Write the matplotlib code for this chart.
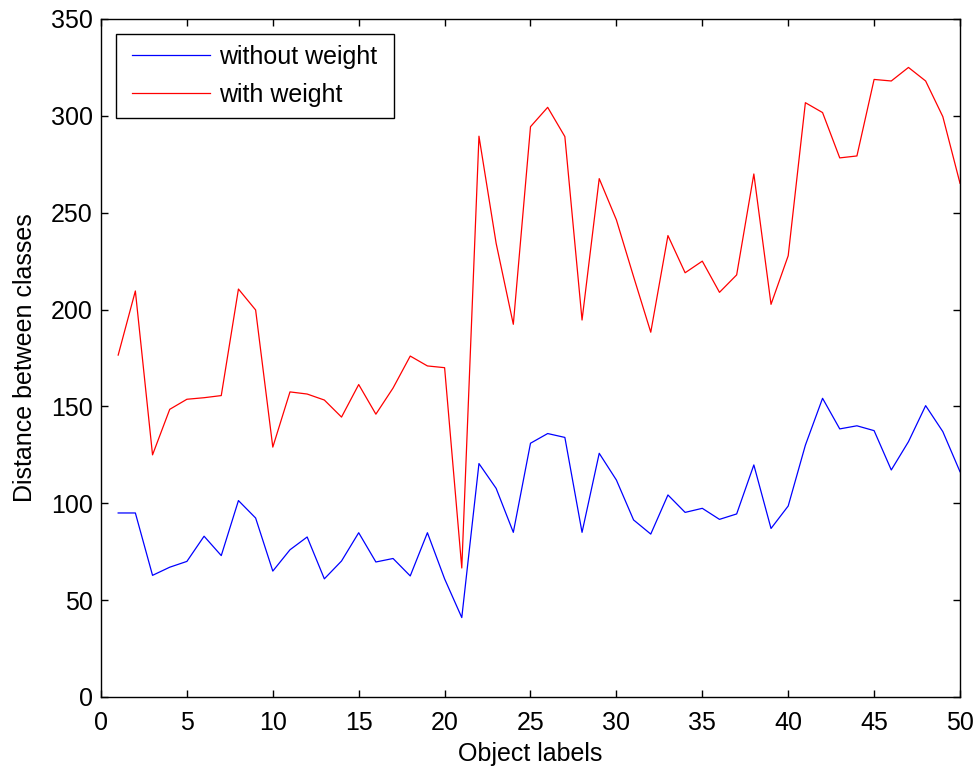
import matplotlib
matplotlib.use("Agg")
import matplotlib.pyplot as plt
from matplotlib.path import Path

object_labels = list(range(1, 51))
without_weight = [95, 95, 62.8, 67, 70, 83, 73, 101.4, 92.4, 65,
                  76, 82.6, 61, 70.2, 84.8, 69.7, 71.5, 62.5, 84.8, 61,
                  41, 120.5, 107.7, 85, 131, 136, 134, 85, 125.8, 112,
                  91.4, 84.1, 104.3, 95.3, 97.4, 91.7, 94.5, 119.8, 87, 98.6,
                  130, 154.2, 138.4, 140, 137.5, 117.2, 131.8, 150.4, 137, 116.3]
with_weight = [176.5, 209.6, 125, 148.5, 153.7, 154.5, 155.6, 210.6, 199.8, 129,
               157.5, 156.4, 153.3, 144.5, 161.3, 146, 159.5, 176, 170.9, 170,
               66.6, 289.5, 234.2, 192.4, 294.4, 304.4, 289.3, 194.6, 267.6, 246.3,
               217, 188.3, 238.2, 219, 225, 208.9, 217.9, 270, 202.7, 227.8,
               306.8, 301.7, 278.3, 279.3, 318.8, 318, 325, 318, 299.6, 265.2]
series_names = ["without weight", "with weight"]
x_ticks = list(range(0, 51, 5))
y_ticks = list(range(0, 351, 50))

plt.rcParams['font.family'] = ['Liberation Sans', 'DejaVu Sans']
FS = 18

fig = plt.figure(figsize=(9.79, 7.67), dpi=100)
ax = fig.add_axes([101/979, 1-697/767, (960-101)/979, (697-19)/767])

ax.plot(object_labels, without_weight, color=(0, 0, 1), lw=0.9, label=series_names[0])
ax.plot(object_labels, with_weight, color=(1, 0, 0), lw=0.9, label=series_names[1])

ax.set_xlim(0, 50)
ax.set_ylim(0, 350)
ax.set_xticks(x_ticks)
ax.set_yticks(y_ticks)
ax.tick_params(direction='in', top=True, right=True, length=5, width=1,
               labelsize=FS, colors='black')
ax.tick_params(axis='x', pad=10)
ax.tick_params(axis='y', pad=6)
for s in ax.spines.values():
    s.set_linewidth(1.0)
    s.set_color('black')

ax.set_xlabel("Object labels", fontsize=FS, labelpad=5)
ax.set_ylabel("Distance between classes", fontsize=FS, labelpad=10)

leg = ax.legend(loc='upper left', bbox_to_anchor=(20/859, 1-15/678),
                borderaxespad=0, fontsize=FS, frameon=True, fancybox=False,
                handlelength=3.1, handletextpad=0.4, borderpad=0.44, labelspacing=0.55)


def wide_box(x0, y0, width, height, mutation_size):
    dx = 0.2 * mutation_size
    xa, xb = x0 - dx, x0 + width + dx
    ya, yb = y0, y0 + height
    return Path([(xa, ya), (xb, ya), (xb, yb), (xa, yb), (xa, ya)],
                [Path.MOVETO, Path.LINETO, Path.LINETO, Path.LINETO, Path.CLOSEPOLY])


fr = leg.get_frame()
fr.set_boxstyle(wide_box)
fr.set_edgecolor('black')
fr.set_linewidth(1.0)
fr.set_alpha(1)

fig.savefig("out.png", dpi=100)
